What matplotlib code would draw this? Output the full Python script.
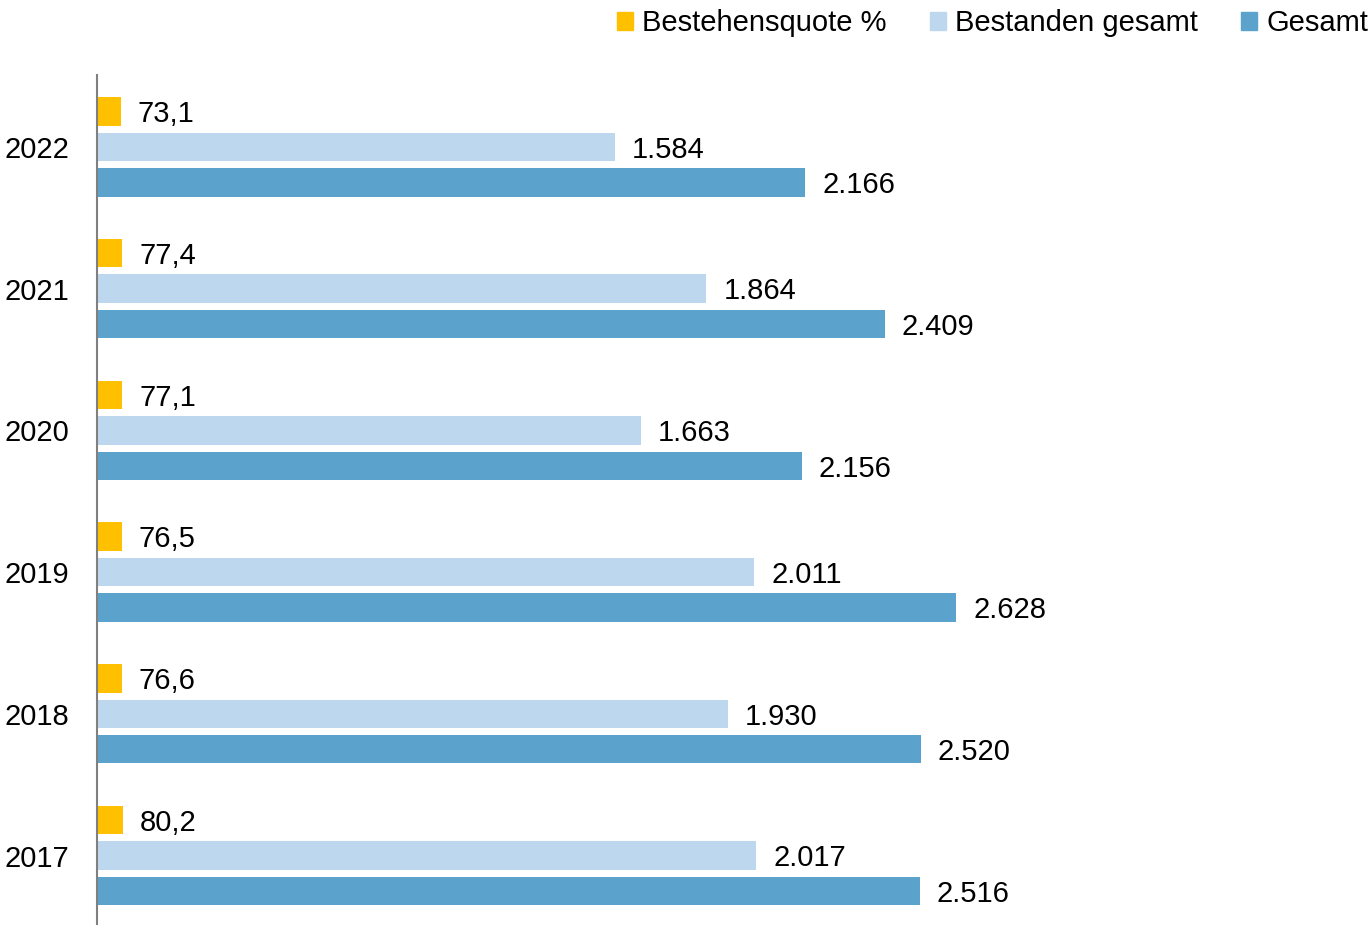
import matplotlib
matplotlib.use('Agg')
import matplotlib.pyplot as plt
from matplotlib.patches import Patch

years = ['2017', '2018', '2019', '2020', '2021', '2022']
quote = [80.2, 76.6, 76.5, 77.1, 77.4, 73.1]
bestanden = [2017, 1930, 2011, 1663, 1864, 1584]
gesamt = [2516, 2520, 2628, 2156, 2409, 2166]

quote_labels = ['80,2', '76,6', '76,5', '77,1', '77,4', '73,1']

c_quote = '#FFC000'
c_best = '#BDD7EE'
c_ges = '#5BA3CC'

plt.rcParams['font.family'] = ['Liberation Sans', 'DejaVu Sans']
fs = 21

fig = plt.figure(figsize=(13.71, 9.25), dpi=100)
W, H = 1371, 925
ax = fig.add_axes([97 / W, 0, (W - 97) / W, (925 - 75) / H])

centers = [i * 4 for i in range(len(years))]
h = 0.8
ax.barh([c + 1 for c in centers], quote, height=h, color=c_quote)
ax.barh(centers, bestanden, height=h, color=c_best)
ax.barh([c - 1 for c in centers], gesamt, height=h, color=c_ges)


def fmt(v):
    return '{:,}'.format(v).replace(',', '.')


for c, q, ql, b, g in zip(centers, quote, quote_labels, bestanden, gesamt):
    for y, v, t in [(c + 1, q, ql), (c, b, fmt(b)), (c - 1, g, fmt(g))]:
        ax.annotate(t, (v, y), xytext=(12.2, -2), textcoords='offset points',
                    va='center', ha='left', fontsize=fs)

ax.set_xlim(0, 3897)
ax.set_ylim(-1.96, 22.03)
ax.set_yticks(centers)
ax.set_yticklabels(years, fontsize=fs)
ax.tick_params(axis='y', length=0, pad=20)
ax.set_xticks([])
for s in ['top', 'right', 'bottom']:
    ax.spines[s].set_visible(False)
ax.spines['left'].set_color('#808080')
ax.spines['left'].set_linewidth(1.5)

handles = [Patch(color=c_quote), Patch(color=c_best), Patch(color=c_ges)]
fig.legend(handles, ['Bestehensquote %', 'Bestanden gesamt', 'Gesamt'],
           loc='upper right', bbox_to_anchor=(1.0, 0.993), ncol=3, frameon=False,
           fontsize=fs, handlelength=0.55, handleheight=0.55, handletextpad=0.3,
           columnspacing=1.5, borderpad=0.1, borderaxespad=0)

plt.savefig('out.png', dpi=100)
